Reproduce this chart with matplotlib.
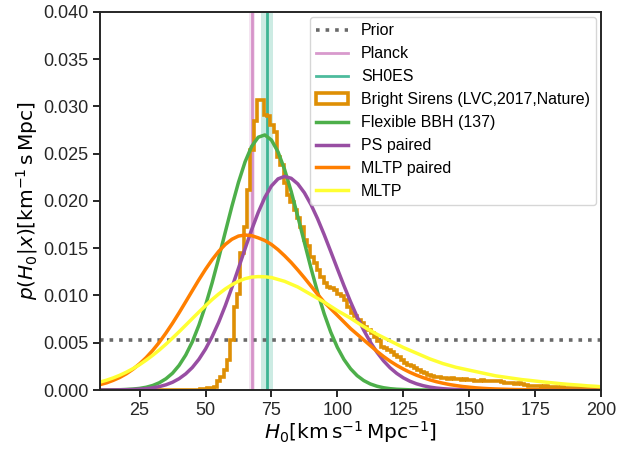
import matplotlib
matplotlib.use('Agg')
import matplotlib.pyplot as plt
import numpy as np

# H0 grid for the smooth posteriors
h0 = np.arange(10, 200.1, 2.5)

flexible_bbh = [0.0, 0.00001, 0.00002, 0.00003, 0.00006, 0.0001, 0.00017, 0.00029,
                0.00048, 0.00077, 0.00119, 0.00178, 0.00261, 0.0037, 0.0051, 0.00686,
                0.00895, 0.01133, 0.01395, 0.01671, 0.01943, 0.02197, 0.02414, 0.02578,
                0.02675, 0.02699, 0.02645, 0.0252, 0.02333, 0.021, 0.01836, 0.01561,
                0.01289, 0.01035, 0.00807, 0.00612, 0.00451, 0.00323, 0.00225, 0.00152,
                0.001, 0.00064, 0.0004, 0.00024, 0.00014, 0.00008, 0.00005, 0.00002,
                0.00001] + [0.0] * 28

ps_paired = [0.0, 0.0, 0.00001, 0.00002, 0.00003, 0.00005, 0.00009, 0.00014,
             0.00023, 0.00036, 0.00055, 0.00082, 0.0012, 0.00171, 0.00238, 0.00325,
             0.00433, 0.00564, 0.00717, 0.00892, 0.01084, 0.01288, 0.01495, 0.01696,
             0.0188, 0.02038, 0.02159, 0.02234, 0.0226, 0.0224, 0.02181, 0.02087,
             0.01962, 0.01812, 0.01644, 0.01465, 0.01283, 0.01104, 0.00934, 0.00775,
             0.00633, 0.00507, 0.004, 0.00309, 0.00235, 0.00176, 0.00129, 0.00093,
             0.00066, 0.00046, 0.00031, 0.00021, 0.00014, 0.00009, 0.00006, 0.00004,
             0.00002, 0.00001] + [0.0] * 19

mltp_paired = [0.00057, 0.00076, 0.00102, 0.00133, 0.00172, 0.0022, 0.00277, 0.00343,
               0.0042, 0.00506, 0.00603, 0.00707, 0.00818, 0.00934, 0.01051, 0.01167,
               0.01277, 0.01378, 0.01467, 0.0154, 0.01595, 0.01629, 0.0164, 0.01633,
               0.0161, 0.01582, 0.0154, 0.01485, 0.0142, 0.01349, 0.0127, 0.01187,
               0.011, 0.01013, 0.0093, 0.0086, 0.0079, 0.0072, 0.0065, 0.0059,
               0.0053, 0.0047, 0.0041, 0.00355, 0.00305, 0.00261, 0.00222, 0.00187,
               0.00157, 0.00131, 0.00108, 0.00088, 0.00072, 0.00058, 0.00047, 0.00037,
               0.0003, 0.00023, 0.00018, 0.00014, 0.00011, 0.00009, 0.00007, 0.00005,
               0.00004, 0.00003, 0.00002, 0.00002, 0.00001, 0.00001, 0.00001, 0.00001,
               0.0, 0.0, 0.0, 0.0, 0.0]

mltp = [0.00084, 0.00104, 0.00128, 0.00156, 0.00189, 0.00226, 0.00268, 0.00316,
        0.00368, 0.00424, 0.00485, 0.0055, 0.00617, 0.00686, 0.00756, 0.00825,
        0.00892, 0.00957, 0.01016, 0.01069, 0.01114, 0.01151, 0.01178, 0.01195,
        0.012, 0.01198, 0.0119, 0.0117, 0.0115, 0.0112, 0.0109, 0.0105,
        0.0101, 0.0097, 0.0093, 0.00885, 0.0084, 0.008, 0.0076, 0.00715,
        0.0067, 0.0063, 0.0059, 0.00555, 0.0052, 0.00485, 0.0045, 0.0042,
        0.0039, 0.0036, 0.0033, 0.00305, 0.0028, 0.0026, 0.0024, 0.00225,
        0.0021, 0.00195, 0.0018, 0.00165, 0.0015, 0.0014, 0.0013, 0.0012,
        0.0011, 0.00103, 0.00095, 0.00087, 0.0008, 0.00073, 0.00066, 0.0006,
        0.00055, 0.0005, 0.00044, 0.0004, 0.00035]

# bright siren (GW170817) histogram, 150 bins between 10 and 200
bin_edges = np.linspace(10, 200, 151)
bright_sirens = [0.0] * 28 + [
    0.00005, 0.00005, 0.0001, 0.00015, 0.0002, 0.0002, 0.0003, 0.0009,
    0.0014, 0.0021, 0.0032, 0.0053, 0.0088, 0.0102, 0.0145, 0.0173,
    0.0212, 0.0254, 0.0285, 0.0307, 0.0307, 0.0291, 0.0290, 0.0280,
    0.0273, 0.0247, 0.0238, 0.0219, 0.0206, 0.0199, 0.0190, 0.0182,
    0.0173, 0.0159, 0.0152, 0.0141, 0.0134, 0.0127, 0.0120, 0.0113,
    0.0109, 0.0108, 0.0106, 0.0102, 0.0099, 0.0095, 0.0088, 0.0081,
    0.0078, 0.0074, 0.0071, 0.0067, 0.0063, 0.0060, 0.0056, 0.0052,
    0.0046, 0.0044, 0.0042, 0.0040, 0.0037, 0.0035, 0.0032, 0.0029,
    0.0026, 0.0025, 0.0023, 0.0021, 0.0019, 0.0018, 0.0016, 0.0015,
    0.0014, 0.0014, 0.0013, 0.0013, 0.0012, 0.0013, 0.0012, 0.0012,
    0.0011, 0.0012, 0.0011, 0.0011, 0.0010, 0.0010, 0.0011, 0.0010,
    0.0010, 0.0009, 0.0010, 0.0009, 0.0008, 0.0007, 0.0007, 0.0007,
    0.0006, 0.0007, 0.0006, 0.0005, 0.0004, 0.0004, 0.0004, 0.0004,
    0.0003, 0.0004, 0.0003, 0.0003, 0.0003, 0.0002, 0.0003, 0.0002,
    0.0002, 0.0002, 0.0002, 0.0002, 0.0001, 0.0002, 0.0001, 0.0001,
    0.0001, 0.0001]

h0_min, h0_max = 10, 200
prior = 1.0 / (h0_max - h0_min)
planck, planck_err = 67.74, 1.2
shoes, shoes_err = 73.24, 2.2

for name, ys in [('flexible_bbh', flexible_bbh), ('ps_paired', ps_paired),
                 ('mltp_paired', mltp_paired), ('mltp', mltp)]:
    assert len(ys) == len(h0), (name, len(ys), len(h0))
assert len(bright_sirens) == len(bin_edges) - 1

plt.rcParams['font.family'] = ['Liberation Sans', 'DejaVu Sans']
plt.rcParams['mathtext.fontset'] = 'dejavusans'
plt.rcParams['axes.edgecolor'] = '#262626'
plt.rcParams['axes.linewidth'] = 1.4
plt.rcParams['xtick.color'] = '#262626'
plt.rcParams['ytick.color'] = '#262626'
plt.rcParams['xtick.major.width'] = 1.4
plt.rcParams['ytick.major.width'] = 1.4
plt.rcParams['xtick.major.size'] = 5
plt.rcParams['ytick.major.size'] = 5

fig = plt.figure(figsize=(6.19, 4.49), dpi=100)
ax = fig.add_axes([0.1616, 0.1314, 0.8094, 0.8419])

ax.hlines(prior, h0_min, h0_max, colors='dimgray', linestyles=':', lw=2.6, label='Prior')
ax.axvline(planck, color='#CC78BC', alpha=0.75, lw=2, label='Planck')
ax.axvspan(planck - planck_err, planck + planck_err, color='#CC78BC', alpha=0.2, lw=0)
ax.axvline(shoes, color='#029E73', alpha=0.7, lw=2, label='SH0ES')
ax.axvspan(shoes - shoes_err, shoes + shoes_err, color='#029E73', alpha=0.2, lw=0)
ax.hist(bin_edges[:-1], bins=bin_edges, weights=bright_sirens, histtype='step',
        color='#DE8F05', lw=2.6, label='Bright Sirens (LVC,2017,Nature)')
ax.plot(h0, flexible_bbh, color='#4daf4a', lw=2.5, label='Flexible BBH (137)')
ax.plot(h0, ps_paired, color='#984ea3', lw=2.5, label='PS paired')
ax.plot(h0, mltp_paired, color='#ff7f00', lw=2.5, label='MLTP paired')
ax.plot(h0, mltp, color='#ffff33', lw=2.5, label='MLTP')

ax.set_xlim(h0_min, h0_max)
ax.set_ylim(0, 0.04)
ax.set_xticks(np.arange(25, 201, 25))
ax.set_yticks(np.arange(0, 0.0401, 0.005))
ax.yaxis.set_major_formatter(matplotlib.ticker.FormatStrFormatter('%.3f'))
ax.tick_params(labelsize=13)
ax.set_xlabel(r'$H_0[\mathrm{km\,s^{-1}\,Mpc^{-1}}]$', fontsize=14.5, labelpad=0)
ax.set_ylabel(r'$p(H_0|x)[\mathrm{km^{-1}\,s\,Mpc}]$', fontsize=14.5, labelpad=2)

ax.legend(loc='upper right', fontsize=11.5, frameon=True, edgecolor='#cccccc',
          borderaxespad=0.3, labelspacing=0.5)

fig.savefig('out.png', dpi=100)
